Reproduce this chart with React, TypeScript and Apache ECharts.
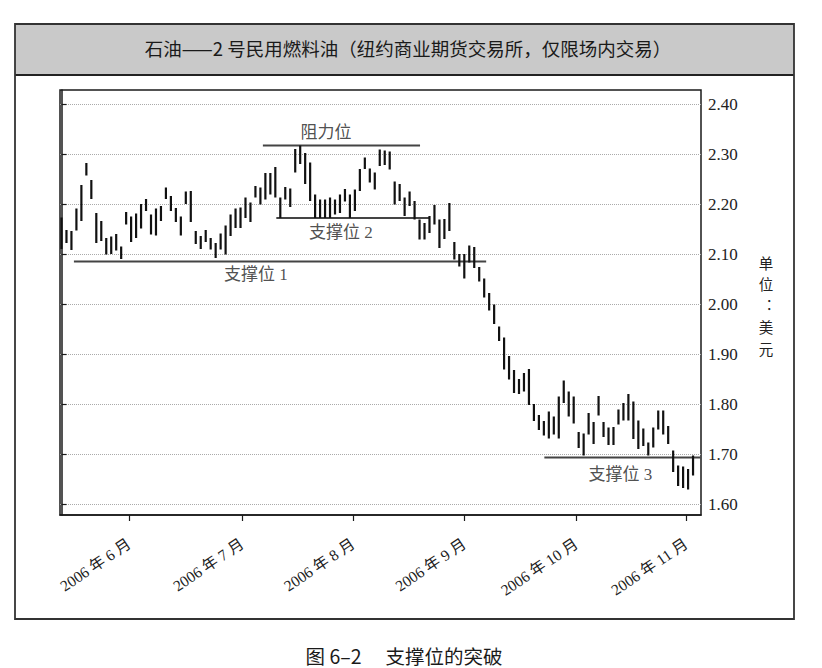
import React, { useEffect, useRef } from "react";
import * as echarts from "echarts";

// High / low of each trading day (May–Nov 2006)
const lows = [
  2.110, 2.122, 2.108, 2.147, 2.166, 2.257, 2.210, 2.122, 2.126, 2.099,
  2.100, 2.107, 2.090, 2.159, 2.124, 2.132, 2.151, 2.186, 2.139, 2.137,
  2.166, 2.210, 2.186, 2.164, 2.137, 2.200, 2.164, 2.120, 2.110, 2.124,
  2.109, 2.092, 2.109, 2.099, 2.136, 2.152, 2.152, 2.172, 2.164, 2.213,
  2.199, 2.209, 2.219, 2.213, 2.172, 2.209, 2.194, 2.263, 2.280, 2.240,
  2.206, 2.172, 2.172, 2.172, 2.172, 2.179, 2.182, 2.205, 2.172, 2.186,
  2.226, 2.270, 2.243, 2.229, 2.276, 2.278, 2.269, 2.199, 2.206, 2.176,
  2.196, 2.169, 2.129, 2.129, 2.142, 2.159, 2.112, 2.130, 2.146, 2.089,
  2.075, 2.051, 2.083, 2.072, 2.045, 2.013, 1.987, 1.960, 1.926, 1.869,
  1.849, 1.822, 1.820, 1.825, 1.798, 1.766, 1.748, 1.737, 1.731, 1.739,
  1.731, 1.802, 1.775, 1.761, 1.712, 1.697, 1.739, 1.720, 1.777, 1.734,
  1.718, 1.718, 1.759, 1.767, 1.767, 1.730, 1.710, 1.716, 1.697, 1.713,
  1.749, 1.739, 1.720, 1.664, 1.636, 1.632, 1.629, 1.657,
];
const highs = [
  2.173, 2.148, 2.146, 2.191, 2.238, 2.282, 2.248, 2.182, 2.166, 2.132,
  2.135, 2.140, 2.115, 2.184, 2.175, 2.181, 2.200, 2.210, 2.179, 2.191,
  2.196, 2.233, 2.216, 2.192, 2.175, 2.225, 2.226, 2.146, 2.136, 2.148,
  2.132, 2.122, 2.141, 2.157, 2.179, 2.191, 2.193, 2.213, 2.203, 2.236,
  2.233, 2.262, 2.262, 2.274, 2.213, 2.234, 2.231, 2.310, 2.317, 2.302,
  2.283, 2.219, 2.209, 2.209, 2.213, 2.209, 2.219, 2.230, 2.219, 2.229,
  2.270, 2.293, 2.271, 2.263, 2.309, 2.307, 2.305, 2.245, 2.240, 2.213,
  2.225, 2.206, 2.169, 2.162, 2.176, 2.198, 2.169, 2.170, 2.202, 2.124,
  2.100, 2.100, 2.117, 2.114, 2.074, 2.051, 2.022, 1.999, 1.955, 1.933,
  1.896, 1.868, 1.850, 1.862, 1.870, 1.800, 1.778, 1.766, 1.785, 1.775,
  1.815, 1.847, 1.825, 1.815, 1.744, 1.741, 1.782, 1.764, 1.816, 1.764,
  1.753, 1.754, 1.789, 1.802, 1.820, 1.805, 1.767, 1.751, 1.723, 1.753,
  1.787, 1.787, 1.756, 1.707, 1.677, 1.675, 1.670, 1.697,
];

// Month boundaries (in trading-day index) and their labels
const monthTicks = [13.6, 36.3, 58.6, 81, 103.5, 125.6];
const monthLabels = [
  "2006 年 6 月",
  "2006 年 7 月",
  "2006 年 8 月",
  "2006 年 9 月",
  "2006 年 10 月",
  "2006 年 11 月",
];
const yTicks = [1.6, 1.7, 1.8, 1.9, 2.0, 2.1, 2.2, 2.3, 2.4];

// Support / resistance levels
const levelNames = ["阻力位", "支撑位 2", "支撑位 1", "支撑位 3"];
const levelValues = [2.317, 2.172, 2.085, 1.693];
const levelFrom = [40.5, 43.2, 2.5, 97.1];
const levelTo = [72.1, 74.1, 85.4, 128.5];
const levelLabelX = [53.2, 56.2, 39.1, 112.4];
const levelLabelY = [2.343, 2.143, 2.060, 1.660];

const TITLE = "石油——2 号民用燃料油（纽约商业期货交易所，仅限场内交易）";
const CAPTION = "图 6–2　 支撑位的突破";
const UNIT_CHARS = ["单", "位", "︓", "美", "元"];
const UNIT_Y = [262, 283.5, 305, 326.5, 348];

const SERIF = "'Liberation Serif', 'DejaVu Serif', 'Noto Sans CJK SC', serif";
const CJK = "'Noto Sans CJK SC', sans-serif";

export default function App() {
  const ref = useRef<HTMLDivElement>(null);

  useEffect(() => {
    if (!ref.current) return;
    const chart = echarts.init(ref.current, undefined, { renderer: "svg" });

    const bars = highs.map((h, i) => [i, lows[i], h]);

    const levelSeries = levelValues.map((v, k) => ({
      type: "line",
      data: [
        [levelFrom[k], v],
        [levelTo[k], v],
      ],
      symbol: "none",
      silent: true,
      z: 3,
      lineStyle: { color: "#444", width: 2 },
    }));

    const unitTexts = UNIT_CHARS.map((c, i) => ({
      type: "text",
      x: 766,
      y: UNIT_Y[i],
      style: {
        text: c,
        fontSize: 14.5,
        lineHeight: 15,
        fontFamily: CJK,
        fill: "#222",
        align: "center",
        verticalAlign: "middle",
      },
    }));

    const option: any = {
      animation: false,
      backgroundColor: "#fff",
      grid: {
        left: 60,
        top: 90,
        right: 121,
        bottom: 153,
        show: true,
        borderColor: "#1a1a1a",
        borderWidth: 1.5,
        containLabel: false,
        outerBoundsMode: "none",
      },
      xAxis: {
        type: "value",
        min: -0.3,
        max: 128.6,
        axisLine: { show: true, lineStyle: { color: "#1a1a1a", width: 1.5 } },
        axisTick: {
          show: true,
          customValues: monthTicks,
          length: 6,
          lineStyle: { color: "#1a1a1a", width: 1.2 },
        },
        axisLabel: {
          show: true,
          customValues: monthTicks,
          rotate: 34,
          margin: 27,
          color: "#222",
          fontSize: 15.5,
          fontFamily: SERIF,
          formatter: (v: number) => {
            let best = 0;
            monthTicks.forEach((t, i) => {
              if (Math.abs(t - v) < Math.abs(monthTicks[best] - v)) best = i;
            });
            return monthLabels[best];
          },
        },
        splitLine: { show: false },
      },
      yAxis: {
        type: "value",
        position: "right",
        min: 1.578,
        max: 2.428,
        axisLine: { show: true, lineStyle: { color: "#1a1a1a", width: 1.5 } },
        axisTick: {
          show: true,
          customValues: yTicks,
          length: 5,
          lineStyle: { color: "#1a1a1a", width: 1.2 },
        },
        axisLabel: {
          show: true,
          customValues: yTicks,
          margin: 7,
          color: "#222",
          fontSize: 17,
          fontFamily: SERIF,
          formatter: (v: number) => v.toFixed(2),
        },
        splitLine: {
          show: true,
          lineStyle: { color: "#aaa", type: "dotted", width: 1 },
        },
      },
      series: [
        {
          type: "custom",
          data: bars,
          encode: { x: 0, y: [1, 2] },
          z: 4,
          renderItem: (_params: any, api: any) => {
            const x = api.value(0);
            const lo = api.coord([x, api.value(1)]);
            const hi = api.coord([x, api.value(2)]);
            return {
              type: "rect",
              shape: { x: lo[0] - 1.1, y: hi[1], width: 2.2, height: lo[1] - hi[1] },
              style: { fill: "#111" },
            };
          },
        },
        ...levelSeries,
        {
          type: "scatter",
          symbolSize: 0,
          silent: true,
          z: 5,
          data: levelNames.map((n, k) => [levelLabelX[k], levelLabelY[k], n]),
          label: {
            show: true,
            position: "inside",
            formatter: (p: any) => p.data[2],
            color: "#222",
            fontSize: 17,
            fontFamily: SERIF,
          },
        },
      ],
      graphic: [
        {
          type: "rect",
          shape: { x: 15, y: 24, width: 779, height: 51 },
          style: { fill: "#c9c9c9", stroke: "none" },
          z: -1,
        },
        {
          type: "line",
          shape: { x1: 15, y1: 75, x2: 794, y2: 75 },
          style: { stroke: "#222", lineWidth: 2 },
        },
        {
          type: "rect",
          shape: { x: 15, y: 24, width: 779, height: 595 },
          style: { fill: "none", stroke: "#333", lineWidth: 1.8 },
        },
        {
          type: "text",
          x: 408,
          y: 48,
          style: {
            text: TITLE,
            fontSize: 18.5,
            fontFamily: CJK,
            fill: "#1a1a1a",
            align: "center",
            verticalAlign: "middle",
          },
        },
        ...unitTexts,
        {
          type: "text",
          x: 404,
          y: 655,
          style: {
            text: CAPTION,
            fontSize: 19.5,
            fontFamily: CJK,
            fill: "#1a1a1a",
            align: "center",
            verticalAlign: "middle",
          },
        },
      ],
    };

    chart.setOption(option);
    return () => chart.dispose();
  }, []);

  return (
    <div
      ref={ref}
      style={{ position: "absolute", left: 0, top: 0, width: 822, height: 668 }}
    />
  );
}
